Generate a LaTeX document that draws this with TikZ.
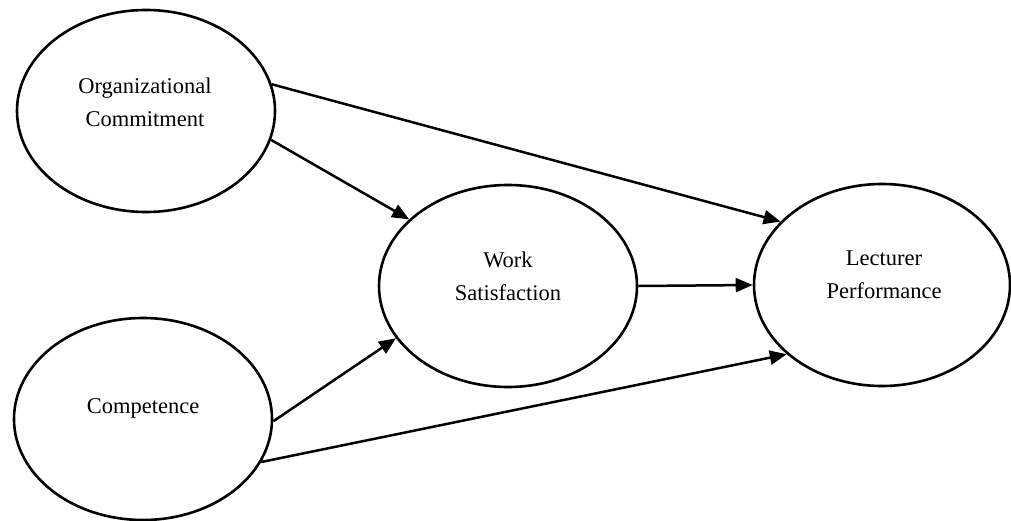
\documentclass[tikz,border=0pt]{standalone}
\usepackage{fontspec}
\setmainfont{Liberation Serif}
\usetikzlibrary{shapes.geometric,arrows.meta}
\begin{document}
\begin{tikzpicture}[x=1pt,y=-1pt,
  construct/.style={draw=black,line width=2.6pt,ellipse,inner sep=0pt,minimum width=258pt,minimum height=202pt},
  lbl/.style={align=center,inner sep=0pt,font=\fontsize{22.5pt}{33pt}\selectfont},
  link/.style={line width=2.5pt,-{Triangle[length=17pt,width=14pt]}}]
\useasboundingbox (0,0) rectangle (1011,521);
\node[construct] (org) at (146,111) {};
\node[construct] (comp) at (143,419) {};
\node[construct] (work) at (508,286) {};
\node[construct,minimum width=256pt] (lect) at (882,285) {};
\node[lbl] (orgt) at (145,102) {Organizational\\Commitment};
\node[lbl] (compt) at (143,408) {Competence};
\node[lbl] (workt) at (508,276) {Work\\Satisfaction};
\node[lbl] (lectt) at (884,275) {Lecturer\\Performance};
\draw[link] (org.12.9) -- (lect.148.7);
\draw[link] (org.-13.3) -- (work.146.6);
\draw[link] (work.east) -- (lect.west);
\draw[link] (comp.-1.7) -- (work.205.7);
\draw[link] (comp.-20.6) -- (lect.216.3);
\end{tikzpicture}
\end{document}
